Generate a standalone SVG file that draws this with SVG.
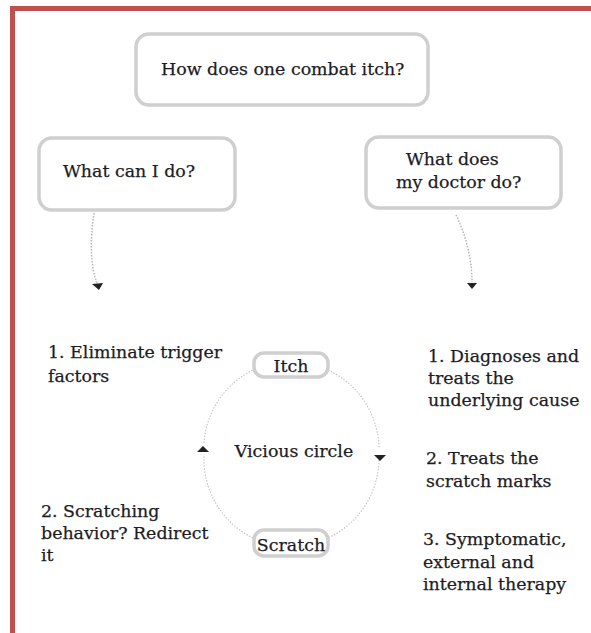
<svg xmlns="http://www.w3.org/2000/svg" width="591" height="633" viewBox="0 0 591 633">
<defs>
<style>
.box{fill:#fff;stroke:#cfcfcf;stroke-width:3.5}
.t{font-family:"DejaVu Serif","Liberation Serif",serif;font-size:17.4px;fill:#1c1c24;stroke:#1c1c24;stroke-width:0.25}
.con{fill:none;stroke:#b5b5b5;stroke-width:1.5;stroke-dasharray:1.5 1.5}
.circ{fill:none;stroke:#c4c4c4;stroke-width:1.1;stroke-dasharray:1.5 1.5}
.ah{fill:#222}
</style>
</defs>
<rect x="0" y="0" width="591" height="633" fill="#fff"/>
<rect x="10" y="6" width="581" height="5" fill="#c0504d"/>
<rect x="10" y="6" width="5" height="627" fill="#c0504d"/>

<g id="connectors">
<path class="con" d="M94,213 C90,240 90,265 97,283"/>
<path class="ah" d="M92,284 L103,283 L99,290 Z"/>
<path class="con" d="M456,215 C466,235 472,260 472,282"/>
<path class="ah" d="M467,283 L477,283 L472,289 Z"/>
<path class="circ" d="M328,370 A88,88 0 0 1 379,449"/>
<path class="circ" d="M379,460 A88,88 0 0 1 328,538"/>
<path class="ah" d="M374,455 L386,455 L380,461 Z"/>
<path class="circ" d="M253,538 A88,88 0 0 1 204,455"/>
<path class="circ" d="M204,443 A88,88 0 0 1 253,370"/>
<path class="ah" d="M197,452 L209,452 L203,446 Z"/>
</g>

<g id="n-top">
<rect class="box" x="136" y="34" width="292" height="71" rx="13"/>
<text class="t" x="161" y="75" font-size="18">How does one combat itch?</text>
</g>
<g id="n-left">
<rect class="box" x="39" y="138" width="196" height="72" rx="13"/>
<text class="t" x="63" y="177">What can I do?</text>
</g>
<g id="n-right">
<rect class="box" x="366" y="137" width="195" height="71" rx="13"/>
<text class="t" x="406" y="165">What does</text>
<text class="t" x="396" y="188">my doctor do?</text>
</g>
<g id="n-itch">
<rect class="box" x="254" y="353" width="74" height="24" rx="10"/>
<text class="t" x="291" y="372" text-anchor="middle">Itch</text>
</g>
<g id="n-scratch">
<rect class="box" x="254" y="530" width="74" height="26" rx="10"/>
<text class="t" x="291" y="551" text-anchor="middle">Scratch</text>
</g>
<g id="n-vicious">
<text class="t" x="294" y="457" text-anchor="middle">Vicious circle</text>
</g>
<g id="n-l1">
<text class="t" x="48" y="358">1. Eliminate trigger</text>
<text class="t" x="48" y="382">factors</text>
</g>
<g id="n-l2">
<text class="t" x="41" y="517">2. Scratching</text>
<text class="t" x="41" y="539">behavior? Redirect</text>
<text class="t" x="41" y="561">it</text>
</g>
<g id="n-r1">
<text class="t" x="428" y="362">1. Diagnoses and</text>
<text class="t" x="428" y="384">treats the</text>
<text class="t" x="428" y="406">underlying cause</text>
</g>
<g id="n-r2">
<text class="t" x="426" y="464">2. Treats the</text>
<text class="t" x="426" y="487">scratch marks</text>
</g>
<g id="n-r3">
<text class="t" x="423" y="545">3. Symptomatic,</text>
<text class="t" x="423" y="568">external and</text>
<text class="t" x="423" y="590">internal therapy</text>
</g>
</svg>
